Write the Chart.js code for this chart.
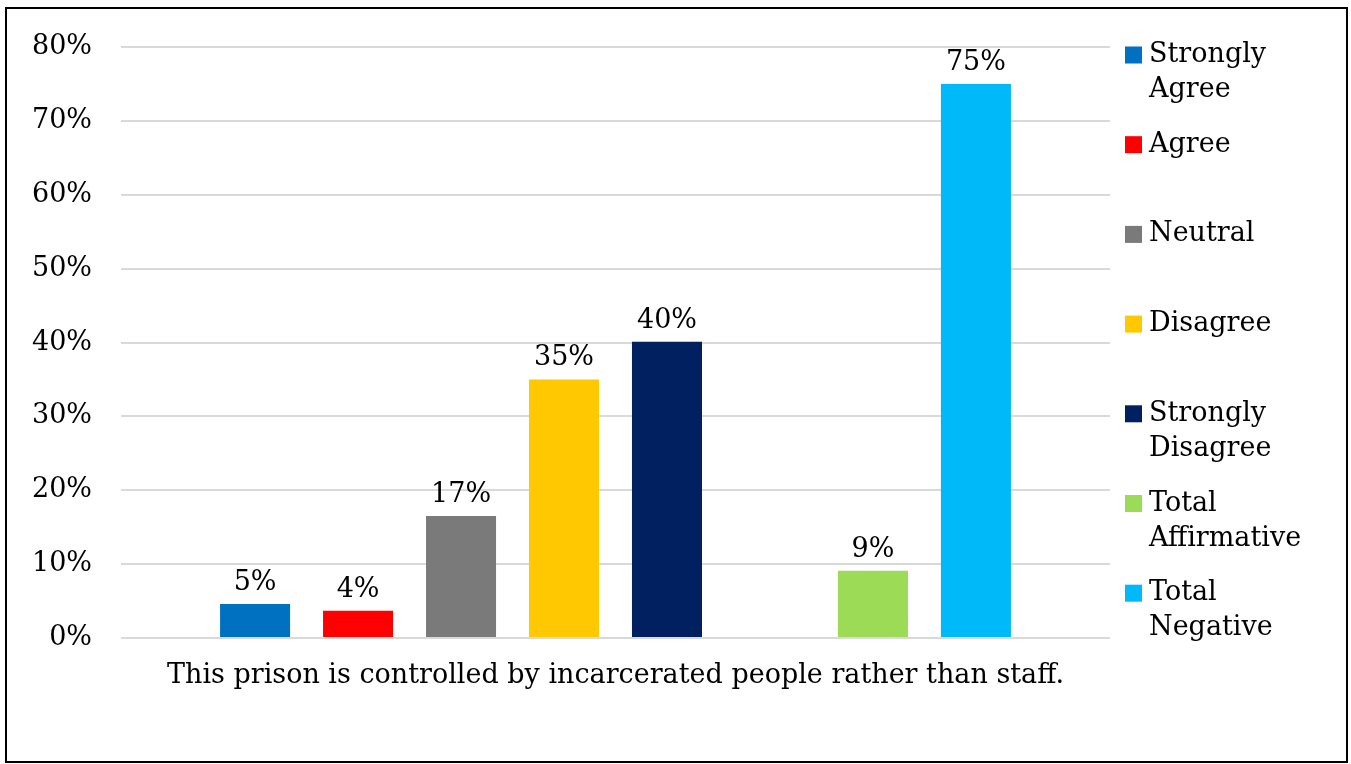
<!DOCTYPE html>
<html><head><meta charset="utf-8">
<script src="https://cdn.jsdelivr.net/npm/chart.js@4.4.1/dist/chart.umd.min.js"></script>
<style>html,body{margin:0;padding:0;background:#fff;overflow:hidden}#wrap{position:absolute;left:0;top:0;width:1351px;height:764px}</style>
</head><body><div id="wrap"><canvas id="c"></canvas></div>
<script>
const categories = ["This prison is controlled by incarcerated people rather than staff."];
const seriesNames = ["Strongly Agree","Agree","Neutral","Disagree","Strongly Disagree","","Total Affirmative","Total Negative"];
const seriesValues = [4.6, 3.7, 16.5, 35.0, 40.1, null, 9.1, 75.0];
const seriesColors = ["#0070C0","#FF0000","#7A7A7A","#FFC800","#002060","#FFFFFF","#9CDB55","#00B9F8"];
const yTickValues = [0,10,20,30,40,50,60,70,80];

const FONT = "'DejaVu Serif', 'Liberation Serif', serif";
const FS = 27;

const framePlugin = {
  id: 'frame',
  beforeDraw(chart) {
    const ctx = chart.ctx;
    ctx.save();
    ctx.fillStyle = '#fff';
    ctx.fillRect(0,0,chart.width,chart.height);
    ctx.strokeStyle = '#000';
    ctx.lineWidth = 2;
    ctx.strokeRect(6,8,1341,754);
    ctx.restore();
  }
};

const labelPlugin = {
  id: 'barLabels',
  afterDatasetsDraw(chart) {
    const ctx = chart.ctx;
    ctx.save();
    ctx.font = FS + 'px ' + FONT;
    ctx.fillStyle = '#000';
    ctx.textAlign = 'center';
    ctx.textBaseline = 'alphabetic';
    chart.data.datasets.forEach((ds, i) => {
      const meta = chart.getDatasetMeta(i);
      ds.data.forEach((v, j) => {
        if (v === null || v === undefined) return;
        const el = meta.data[j];
        ctx.fillText(Math.round(v) + '%', el.x, el.y - 14);
      });
    });
    ctx.restore();
  }
};

const legendPlugin = {
  id: 'sideLegend',
  afterDraw(chart) {
    const ctx = chart.ctx;
    ctx.save();
    ctx.font = FS + 'px ' + FONT;
    ctx.fillStyle = '#000';
    ctx.textBaseline = 'middle';
    ctx.textAlign = 'left';
    let k = 0;
    chart.data.datasets.forEach((ds) => {
      if (!ds.label) return;
      const y0 = 55 + k * 89.7;
      ctx.fillStyle = ds.backgroundColor;
      ctx.fillRect(1125, y0 - 8.5, 17, 17);
      ctx.fillStyle = '#000';
      const words = ds.label.split(' ');
      words.forEach((w, li) => ctx.fillText(w, 1149, y0 + li * 35));
      k++;
    });
    ctx.restore();
  }
};

const datasets = seriesNames.map((name, i) => ({
  label: name,
  data: [seriesValues[i]],
  backgroundColor: seriesColors[i],
  borderWidth: 0,
  categoryPercentage: 0.833,
  barPercentage: 0.68
}));

new Chart(document.getElementById('c'), {
  type: 'bar',
  data: { labels: categories, datasets },
  options: {
    responsive: true,
    maintainAspectRatio: false,
    animation: false,
    layout: { padding: { left: 10, right: 241, top: 47, bottom: 0 } },
    plugins: { legend: { display: false }, tooltip: { enabled: false } },
    scales: {
      x: {
        grid: { display: false, drawTicks: false },
        border: { display: false },
        ticks: { color: '#000', font: { family: FONT, size: FS }, padding: 22, maxRotation: 0 },
        afterFit(s) { s.height = 126; }
      },
      y: {
        min: 0, max: 80,
        afterBuildTicks(s) { s.ticks = yTickValues.map(v => ({ value: v })); },
        grid: { color: '#D9D9D9', lineWidth: 2, drawTicks: false },
        border: { display: false },
        ticks: { color: '#000', font: { family: FONT, size: FS }, padding: 29, callback: v => v + '%' },
        afterFit(s) { s.width = 111; }
      }
    }
  },
  plugins: [framePlugin, labelPlugin, legendPlugin]
});
</script></body></html>
